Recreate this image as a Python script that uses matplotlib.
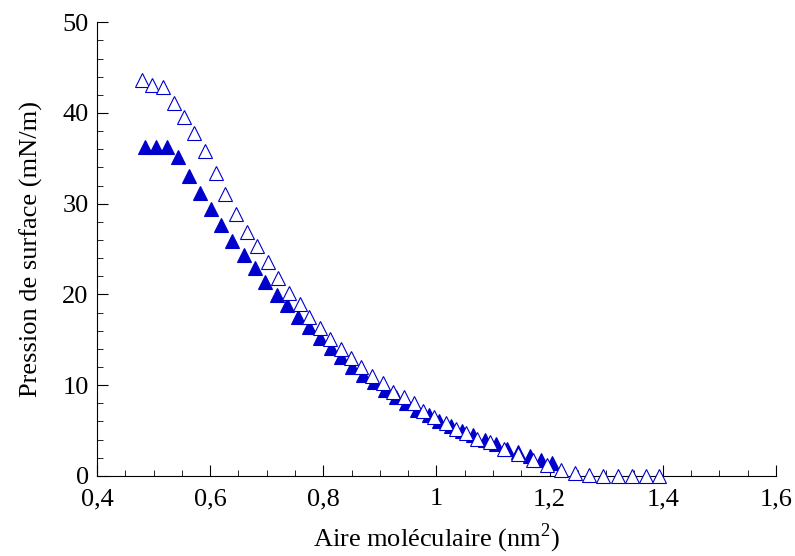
import numpy as np
import matplotlib
matplotlib.use("Agg")
import matplotlib.pyplot as plt
from matplotlib.ticker import MultipleLocator, FuncFormatter

plt.rcParams['font.family'] = ['Liberation Serif', 'DejaVu Serif']
plt.rcParams['mathtext.fontset'] = 'custom'
plt.rcParams['mathtext.rm'] = 'Liberation Serif'

# open triangles (compression curve 1)
area_open = [0.479, 0.498, 0.517, 0.536, 0.554, 0.572, 0.591, 0.610, 0.627, 0.646,
             0.665, 0.683, 0.703, 0.720, 0.739, 0.758, 0.775, 0.794, 0.812, 0.831,
             0.849, 0.867, 0.886, 0.905, 0.924, 0.942, 0.960, 0.977, 0.996, 1.016,
             1.034, 1.052, 1.071, 1.095, 1.120, 1.145, 1.170, 1.195, 1.220, 1.245,
             1.270, 1.295, 1.320, 1.345, 1.370, 1.393]
pi_open = [43.6, 43.1, 42.9, 41.1, 39.6, 37.8, 35.8, 33.4, 31.1, 28.9,
           26.9, 25.3, 23.6, 21.8, 20.2, 19.0, 17.5, 16.3, 15.1, 14.0,
           13.0, 12.0, 11.0, 10.2, 9.3, 8.7, 8.0, 7.2, 6.5, 5.8,
           5.2, 4.7, 4.1, 3.7, 3.0, 2.4, 1.8, 1.2, 0.66, 0.3,
           0.1, 0.0, 0.0, 0.0, 0.0, 0.0]

# filled triangles (compression curve 2)
area_fill = [0.485, 0.505, 0.524, 0.543, 0.563, 0.582, 0.601, 0.620, 0.639, 0.659,
             0.679, 0.697, 0.718, 0.736, 0.756, 0.775, 0.794, 0.813, 0.832, 0.851,
             0.871, 0.890, 0.909, 0.928, 0.947, 0.966, 0.986, 1.005, 1.026, 1.046,
             1.065, 1.086, 1.106, 1.124, 1.145, 1.165, 1.184, 1.204]
pi_fill = [36.2, 36.2, 36.3, 35.1, 33.0, 31.2, 29.4, 27.6, 25.9, 24.3,
           22.9, 21.4, 19.9, 18.8, 17.5, 16.4, 15.2, 14.1, 13.1, 12.0,
           11.1, 10.3, 9.5, 8.7, 8.0, 7.3, 6.7, 6.1, 5.5, 5.0,
           4.5, 4.0, 3.5, 3.0, 2.6, 2.2, 1.8, 1.4]

blue = '#0000CC'

fig = plt.figure(figsize=(7.95, 5.56), dpi=100)
ax = fig.add_axes([0.122, 0.144, 0.854, 0.816])

ax.plot(area_fill, pi_fill, ls='none', marker='^', ms=9.5, mfc=blue, mec=blue,
        mew=0.8, clip_on=False, zorder=3)
ax.plot(area_open, pi_open, ls='none', marker='^', ms=9.5, mfc='white', mec=blue,
        mew=0.8, clip_on=False, zorder=4)

ax.set_xlim(0.4, 1.6)
ax.set_ylim(0, 50)
ax.xaxis.set_major_locator(MultipleLocator(0.2))
ax.xaxis.set_minor_locator(MultipleLocator(0.05))
ax.yaxis.set_major_locator(MultipleLocator(10))
ax.yaxis.set_minor_locator(MultipleLocator(2))


def comma(v, pos):
    s = ('%.1f' % v).rstrip('0').rstrip('.')
    return s.replace('.', ',')


ax.xaxis.set_major_formatter(FuncFormatter(comma))

for side in ['top', 'right']:
    ax.spines[side].set_visible(False)
for side in ['left', 'bottom']:
    ax.spines[side].set_linewidth(0.8)

ax.tick_params(which='major', direction='in', length=8, width=0.8, labelsize=19)
ax.tick_params(axis='x', which='major', pad=9)
ax.tick_params(axis='y', which='major', pad=6)
ax.tick_params(which='minor', direction='in', length=4, width=0.6)

ax.set_xlabel(r'Aire moléculaire (nm$^{\mathregular{2}}$)', fontsize=19, labelpad=8)
ax.set_ylabel('Pression de surface (mN/m)', fontsize=19, labelpad=14)

fig.savefig('out.png', dpi=100)
